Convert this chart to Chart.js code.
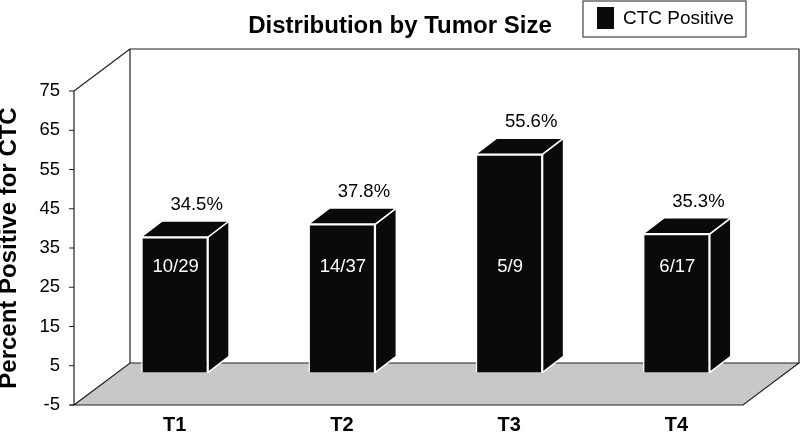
<!DOCTYPE html>
<html>
<head>
<meta charset="utf-8">
<title>Distribution by Tumor Size</title>
<script src="https://cdn.jsdelivr.net/npm/chart.js@4"></script>
<style>
  html, body { margin: 0; padding: 0; background: #fff; overflow: hidden; }
  canvas { display: block; }
</style>
</head>
<body>
<canvas id="tumorChart" width="800" height="433"></canvas>
<script>
// Chart data
const categories = ['T1', 'T2', 'T3', 'T4'];
const percentPositive = [34.5, 37.8, 55.6, 35.3];
const positiveCounts = ['10/29', '14/37', '5/9', '6/17'];
const yTickValues = [-5, 5, 15, 25, 35, 45, 55, 65, 75];
const seriesName = 'CTC Positive';

const FONT = '"Liberation Sans", Arial, Helvetica, sans-serif';

// 3D look: depth of the box, where the bars sit, and how deep each bar is
const BOX_DX = 56, BOX_DY = 42;
const PLANE_DX = 17, PLANE_DY = 13;
const BAR_DX = 21, BAR_DY = 16;
const BAR_SHIFT = 3.3; // PLANE_DY expressed in axis units

// Back wall, floor and front axis of the 3D box
const frame3d = {
  id: 'frame3d',
  beforeDatasetsDraw(chart) {
    const { ctx, chartArea, scales } = chart;
    const y = scales.y;
    const fl = chartArea.left - PLANE_DX;
    const fr = chartArea.right - PLANE_DX;
    const ft = y.getPixelForValue(y.max);
    const fb = y.getPixelForValue(y.min);

    ctx.save();
    ctx.lineWidth = 1.2;
    ctx.strokeStyle = '#222';

    // floor
    ctx.fillStyle = '#c8c8c8';
    ctx.beginPath();
    ctx.moveTo(fl, fb);
    ctx.lineTo(fr, fb);
    ctx.lineTo(fr + BOX_DX, fb - BOX_DY);
    ctx.lineTo(fl + BOX_DX, fb - BOX_DY);
    ctx.closePath();
    ctx.fill();
    ctx.stroke();

    // back wall + left top edge
    ctx.beginPath();
    ctx.moveTo(fl + BOX_DX, fb - BOX_DY);
    ctx.lineTo(fl + BOX_DX, ft - BOX_DY);
    ctx.lineTo(fr + BOX_DX, ft - BOX_DY);
    ctx.lineTo(fr + BOX_DX, fb - BOX_DY);
    ctx.moveTo(fl, ft);
    ctx.lineTo(fl + BOX_DX, ft - BOX_DY);
    // front axis line
    ctx.moveTo(fl, ft);
    ctx.lineTo(fl, fb);
    ctx.moveTo(fl - 4, fb);
    ctx.lineTo(fl, fb);
    ctx.stroke();

    // tick marks on the front axis
    ctx.beginPath();
    y.ticks.forEach(t => {
      const py = y.getPixelForValue(t.value);
      ctx.moveTo(fl - 5, py);
      ctx.lineTo(fl, py);
    });
    ctx.stroke();
    ctx.restore();
  }
};

// Side/top faces of the bars and the value labels
const bars3d = {
  id: 'bars3d',
  afterDatasetsDraw(chart) {
    const { ctx, scales } = chart;
    const meta = chart.getDatasetMeta(0);
    ctx.save();
    ctx.fillStyle = '#0a0a0a';
    ctx.strokeStyle = '#fff';
    ctx.lineWidth = 1.5;
    ctx.lineJoin = 'round';
    meta.data.forEach(bar => {
      const { x, y, base, width } = bar.getProps(['x', 'y', 'base', 'width'], true);
      const l = x - width / 2, r = x + width / 2;
      // side face
      ctx.beginPath();
      ctx.moveTo(r, y);
      ctx.lineTo(r + BAR_DX, y - BAR_DY);
      ctx.lineTo(r + BAR_DX, base - BAR_DY);
      ctx.lineTo(r, base);
      ctx.closePath();
      ctx.fill();
      ctx.stroke();
      // top face
      ctx.beginPath();
      ctx.moveTo(l, y);
      ctx.lineTo(l + BAR_DX, y - BAR_DY);
      ctx.lineTo(r + BAR_DX, y - BAR_DY);
      ctx.lineTo(r, y);
      ctx.closePath();
      ctx.fill();
      ctx.stroke();
    });

    ctx.textAlign = 'center';
    ctx.textBaseline = 'middle';
    ctx.font = '18.5px ' + FONT;
    meta.data.forEach((bar, i) => {
      const { x, y } = bar.getProps(['x', 'y'], true);
      ctx.fillStyle = '#000';
      ctx.fillText(percentPositive[i].toFixed(1) + '%', x + 22, y - 32);
      ctx.fillStyle = '#fff';
      ctx.fillText(positiveCounts[i], x + 1, scales.yBar.getPixelForValue(27));
    });
    ctx.restore();
  }
};

// Boxed legend sitting beside the title
const boxLegend = {
  id: 'boxLegend',
  afterDraw(chart) {
    const { ctx } = chart;
    ctx.save();
    ctx.fillStyle = '#fff';
    ctx.strokeStyle = '#444';
    ctx.lineWidth = 1.2;
    ctx.fillRect(583, 1, 163, 36);
    ctx.strokeRect(583, 1, 163, 36);
    ctx.fillStyle = '#0a0a0a';
    ctx.fillRect(597, 7, 17, 22);
    ctx.fillStyle = '#000';
    ctx.font = '19px ' + FONT;
    ctx.textBaseline = 'middle';
    ctx.fillText(seriesName, 623, 19);
    ctx.restore();
  }
};

const ctx = document.getElementById('tumorChart');
new Chart(ctx, {
  type: 'bar',
  data: {
    labels: categories,
    datasets: [{
      label: seriesName,
      data: percentPositive,
      yAxisID: 'yBar',
      backgroundColor: '#0a0a0a',
      borderColor: '#fff',
      borderWidth: 1.5,
      barPercentage: 0.4,
      categoryPercentage: 1
    }]
  },
  options: {
    responsive: false,
    animation: false,
    layout: { padding: 0 },
    plugins: {
      legend: { display: false },
      tooltip: { enabled: false },
      title: {
        display: true,
        text: 'Distribution by Tumor Size',
        color: '#000',
        font: { family: FONT, size: 24, weight: 'bold', lineHeight: 1.2 },
        padding: { top: 12, bottom: 50.2 }
      }
    },
    scales: {
      x: {
        grid: { display: false, drawTicks: false },
        border: { display: false },
        ticks: {
          color: '#000',
          padding: 8,
          font: { family: FONT, size: 20, weight: 'bold', lineHeight: 1.2 }
        },
        afterFit: s => { s.height = 28; }
      },
      y: {
        position: 'left',
        min: yTickValues[0],
        max: yTickValues[yTickValues.length - 1],
        // tickLength (not ticks.padding) pushes labels left of the front axis
        grid: { display: false, drawTicks: true, tickLength: 31 },
        border: { display: false },
        ticks: {
          stepSize: yTickValues[1] - yTickValues[0],
          color: '#000',
          padding: 0,
          font: { family: FONT, size: 18.5 }
        },
        title: {
          display: true,
          text: 'Percent Positive for CTC',
          color: '#000',
          padding: 0,
          font: { family: FONT, size: 24, weight: 'bold', lineHeight: 0.8 }
        },
        afterFit: s => { s.width = 91; }
      },
      yBar: {
        position: 'right',
        min: yTickValues[0] - BAR_SHIFT,
        max: yTickValues[yTickValues.length - 1] - BAR_SHIFT,
        grid: { display: false, drawTicks: false },
        border: { display: false },
        ticks: { display: false },
        afterFit: s => { s.width = 40; }
      }
    }
  },
  plugins: [frame3d, bars3d, boxLegend]
});
</script>
</body>
</html>
